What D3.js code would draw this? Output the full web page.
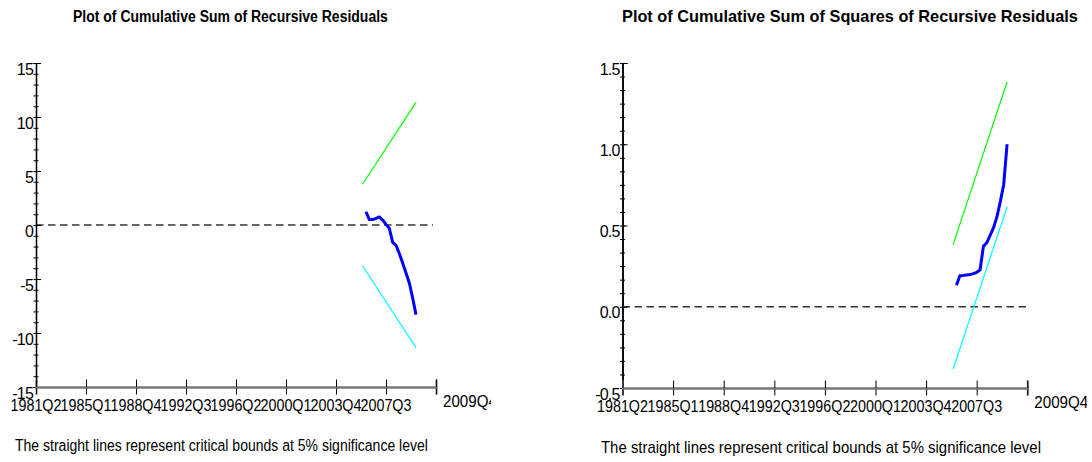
<!DOCTYPE html>
<html><head><meta charset="utf-8">
<script src="https://cdn.jsdelivr.net/npm/d3@7"></script>
<style>body{margin:0;background:#fff}svg{display:block}text{font-family:"Liberation Sans",Arial,sans-serif;fill:#000}</style>
</head><body><svg id="c" width="1092" height="462"></svg>
<script>
// ---------- data ----------
const tickLabels = ["1981Q2","1985Q1","1988Q4","1992Q3","1996Q2","2000Q1","2003Q4","2007Q3"];
const endLabel = "2009Q4";
const quarters = ["2006Q1","2006Q2","2006Q3","2006Q4","2007Q1","2007Q2","2007Q3","2007Q4",
                  "2008Q1","2008Q2","2008Q3","2008Q4","2009Q1","2009Q2","2009Q3","2009Q4"];
const boundQuarters = ["2005Q4","2009Q4"];
const cusum = [1.23,0.5,0.5,0.62,0.75,0.46,0.06,-0.31,-1.6,-1.88,-2.64,-3.52,-4.44,-5.37,-6.76,-8.3];
const cusumUpper = [3.8,11.35];
const cusumLower = [-3.8,-11.35];
const cusumsq = [0.132,0.191,0.193,0.196,0.198,0.204,0.212,0.227,0.373,0.394,0.44,0.487,0.554,0.647,0.751,1.0];
const cusumsqUpper = [0.382,1.383];
const cusumsqLower = [-0.383,0.614];
const cusumYTicks = [15,10,5,0,-5,-10,-15];
const cusumsqYTicks = [1.5,1.0,0.5,0.0,-0.5];
const titles = ["Plot of Cumulative Sum of Recursive Residuals","Plot of Cumulative Sum of Squares of Recursive Residuals"];
const footnote = "The straight lines represent critical bounds at 5% significance level";

// ---------- helpers ----------
const qIndex = s => (+s.slice(0,4) - 1981) * 4 + (+s.slice(5) - 2);
const svg = d3.select("#c");
const hy = f => v => f(v).replace("\u2212","-");
// horizontally condensed text: anchor "start" | "middle"
function squeezed(parent, str, x, y, size, width, anchor, bold) {
  const t = parent.append("text").attr("font-size", size).attr("text-anchor", "start")
    .attr("font-weight", bold ? "bold" : null).text(str);
  const nat = t.node().getComputedTextLength();
  const sx = width / nat;
  const x0 = anchor === "middle" ? x - width / 2 : x;
  t.attr("transform", `translate(${x0},${y}) scale(${sx},1)`);
  return t;
}

const panels = [
  {title:titles[0], titleX:230.5, titleW:315, x0:36, x1:436, yTop:63, yBot:387, dom:[-15,15], minorN:30,
   yTicks:cusumYTicks, fmt:hy(d3.format("d")), series:cusum, up:cusumUpper, lo:cusumLower,
   clip:[0,491], footX:15, footW:413, footY:451},
  {title:titles[1], titleX:850, titleW:456, x0:622.5, x1:1027.3, yTop:63, yBot:388, dom:[-0.5,1.5], minorN:24,
   yTicks:cusumsqYTicks, fmt:hy(d3.format(".1f")), series:cusumsq, up:cusumsqUpper, lo:cusumsqLower,
   clip:[546,1087], footX:601, footW:440, footY:453}
];

panels.forEach((p,i) => {
  const x = d3.scaleLinear().domain([0,120]).range([p.x0,p.x1]);
  const y = d3.scaleLinear().domain(p.dom).range([p.yBot,p.yTop]);
  const g = svg.append("g");

  // title
  squeezed(g, p.title, p.titleX, 22, 17, p.titleW, "middle", true);

  // zero dashed line
  g.append("line").attr("x1",p.x0).attr("x2",p.x1-3+(i?4:0)).attr("y1",y(0)).attr("y2",y(0))
    .attr("stroke","#333").attr("stroke-width",1.3).attr("stroke-dasharray","7.5,4.5");

  // y axis: minor ticks crossing the axis
  const minor = d3.range(p.minorN+1).map(k => p.dom[0] + k*(p.dom[1]-p.dom[0])/p.minorN);
  const ya = g.append("g").attr("transform",`translate(${p.x0},0)`);
  ya.call(d3.axisLeft(y).tickValues(minor).tickSize(2.5).tickFormat(""));
  ya.append("g").call(d3.axisRight(y).tickValues(minor).tickSize(2.5).tickFormat(""));
  ya.append("g").call(d3.axisRight(y).tickValues(p.yTicks).tickSize(5).tickFormat(""));
  ya.selectAll(".domain").attr("stroke","#000").attr("stroke-width",1.2);
  ya.selectAll(".tick line").attr("stroke","#000").attr("stroke-width",1);
  p.yTicks.forEach(v => {
    g.append("text").attr("x",p.x0-3).attr("y",y(v)+11.5).attr("text-anchor","end")
      .attr("font-size",16).attr("letter-spacing","-0.8").text(p.fmt(v));
  });

  // x axis
  const xt = d3.range(0,121,15);
  const xa = g.append("g").attr("transform",`translate(0,${p.yBot})`);
  xa.call(d3.axisBottom(x).tickValues(xt).tickSize(7.5).tickFormat(""));
  xa.append("g").call(d3.axisTop(x).tickValues(xt).tickSize(7.5).tickFormat(""));
  xa.selectAll(".domain").attr("stroke","#777").attr("stroke-width",2);
  xa.selectAll(".tick line").attr("stroke","#000").attr("stroke-width",1);
  tickLabels.forEach((t,k) => {
    squeezed(g, t, x(k*15), p.yBot+24, 16.5, 51, "middle", false);
  });
  // end-of-sample label, cut at the panel edge as in the original
  const cid = "clip"+i;
  svg.append("clipPath").attr("id",cid).append("rect")
    .attr("x",p.clip[0]).attr("y",0).attr("width",p.clip[1]-p.clip[0]).attr("height",462);
  const eg = g.append("g").attr("clip-path",`url(#${cid})`);
  squeezed(eg, endLabel, x(120)+7, p.yBot+19.5, 16.5, 54, "start", false);

  // bounds
  const bl = d3.line().x(d=>x(qIndex(d[0]))).y(d=>y(d[1]));
  g.append("path").attr("d",bl(boundQuarters.map((q,k)=>[q,p.up[k]])))
    .attr("fill","none").attr("stroke","#00ff00").attr("stroke-width",1.2);
  g.append("path").attr("d",bl(boundQuarters.map((q,k)=>[q,p.lo[k]])))
    .attr("fill","none").attr("stroke","#00ffff").attr("stroke-width",1.2);
  // statistic
  g.append("path").attr("d",bl(quarters.map((q,k)=>[q,p.series[k]])))
    .attr("fill","none").attr("stroke","#0000ff").attr("stroke-width",3).attr("stroke-linejoin","round");

  // footnote
  squeezed(g, footnote, p.footX, p.footY, 17, p.footW, "start", false);
});
</script></body></html>
